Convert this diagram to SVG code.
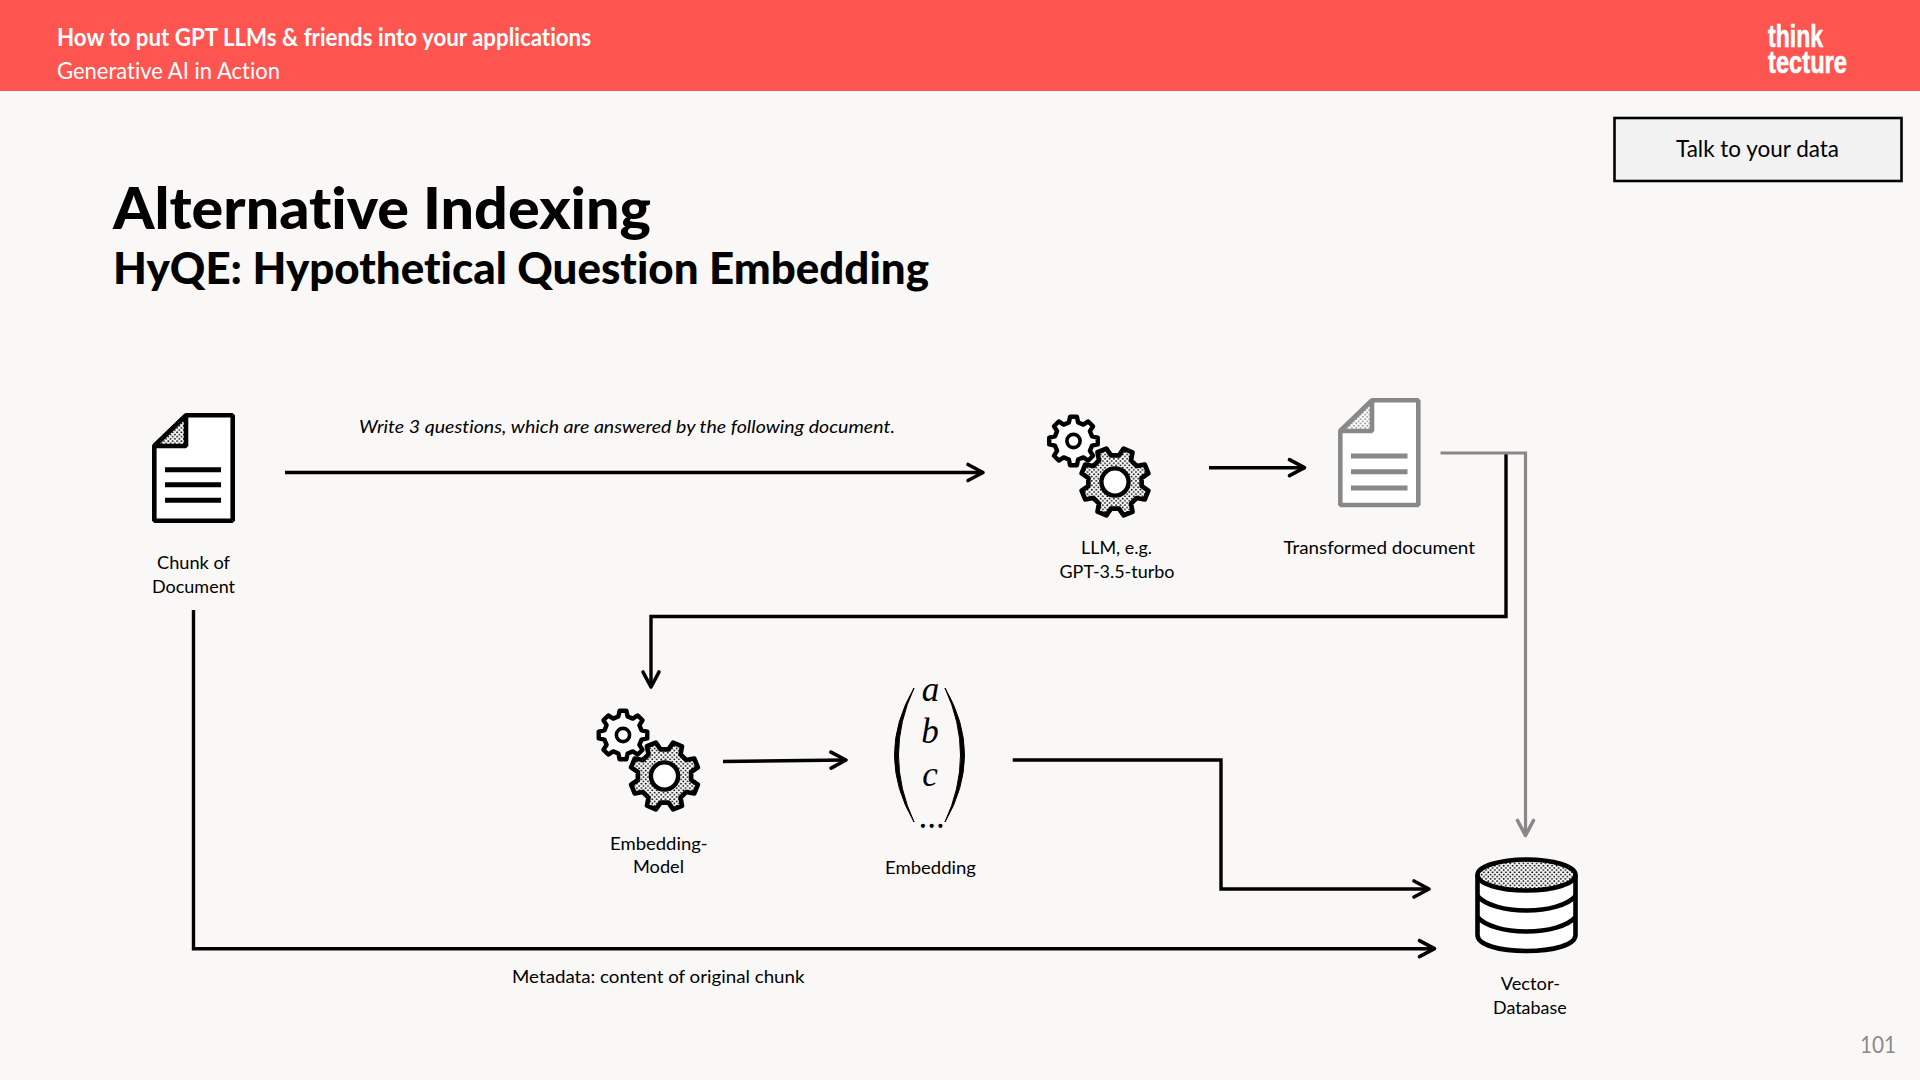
<svg xmlns="http://www.w3.org/2000/svg" xmlns:xlink="http://www.w3.org/1999/xlink" width="1920" height="1080" viewBox="0 0 1920 1080">
<style>
text{font-family:"Lato","Carlito","Liberation Sans",sans-serif;fill:#000;font-variant-ligatures:none}
.lb{font-size:17.5px}
.hd{fill:#fff;font-size:24px}
.conn{fill:none;stroke:#000;stroke-width:3.4;stroke-linejoin:miter}
.gray{stroke:#888;marker-end:url(#ag)}
.blk{marker-end:url(#ab)}
.dk{fill:#fff;stroke:#000;stroke-width:4.6;stroke-linejoin:bevel}
.mth{font-family:"Liberation Serif",serif;font-style:italic;font-size:35px;text-anchor:middle}
.logo{font-family:"Liberation Sans",sans-serif;fill:#fff;font-size:32px;font-weight:700;stroke:#fff;stroke-width:.6}
</style>
<defs>
<marker id="ab" markerUnits="userSpaceOnUse" viewBox="-20 -12 24 24" refX="0" refY="0" markerWidth="24" markerHeight="24" orient="auto"><path d="M-15,-8 L0,0 L-15,8" fill="none" stroke="#000" stroke-width="3.6" stroke-linecap="round" stroke-linejoin="round"/></marker>
<marker id="ag" markerUnits="userSpaceOnUse" viewBox="-20 -12 24 24" refX="0" refY="0" markerWidth="24" markerHeight="24" orient="auto"><path d="M-15,-8 L0,0 L-15,8" fill="none" stroke="#888" stroke-width="3.6" stroke-linecap="round" stroke-linejoin="round"/></marker>
<pattern id="dots" patternUnits="userSpaceOnUse" width="4.4" height="4.4"><rect width="4.4" height="4.4" fill="#fff"/><circle cx="1.1" cy="1.1" r="0.95" fill="#000"/><circle cx="3.3" cy="3.3" r="0.95" fill="#000"/></pattern>
<pattern id="dotsg" patternUnits="userSpaceOnUse" width="4.4" height="4.4"><rect width="4.4" height="4.4" fill="#fff"/><circle cx="1.1" cy="1.1" r="0.95" fill="#888"/><circle cx="3.3" cy="3.3" r="0.95" fill="#888"/></pattern>
<pattern id="dotsL" patternUnits="userSpaceOnUse" width="12.8" height="12.8" patternTransform="rotate(-22.5)"><rect width="12.8" height="12.8" fill="#fff"/><circle cx="3.2" cy="3.2" r="2.7" fill="#000"/><circle cx="9.6" cy="9.6" r="2.7" fill="#000"/></pattern>
<path id="gearp" d="M75.7,-18.9 L99,-13.9 L99,13.9 L75.7,18.9 L66.9,40.2 L79.8,60.2 L60.2,79.8 L40.2,66.9 L18.9,75.7 L13.9,99 L-13.9,99 L-18.9,75.7 L-40.2,66.9 L-60.2,79.8 L-79.8,60.2 L-66.9,40.2 L-75.7,18.9 L-99,13.9 L-99,-13.9 L-75.7,-18.9 L-66.9,-40.2 L-79.8,-60.2 L-60.2,-79.8 L-40.2,-66.9 L-18.9,-75.7 L-13.9,-99 L13.9,-99 L18.9,-75.7 L40.2,-66.9 L60.2,-79.8 L79.8,-60.2 L66.9,-40.2 Z" stroke-linejoin="round"/>
<g id="gears">
<use xlink:href="#gearp" href="#gearp" transform="translate(-41.5,-41) scale(.245)" fill="#fff" stroke="#000" stroke-width="18"/>
<circle cx="-41.5" cy="-41" r="6.6" fill="#fff" stroke="#000" stroke-width="3.6"/>
<use xlink:href="#gearp" href="#gearp" transform="rotate(22.5) scale(.345)" fill="url(#dotsL)" stroke="#000" stroke-width="13.5"/>
<circle r="13.6" fill="#fff" stroke="#000" stroke-width="4.4"/>
</g>
</defs>
<rect width="1920" height="1080" fill="#F9F8F6"/>
<g id="header">
<rect width="1920" height="91" fill="#FF5550"/>
<text class="hd" x="57" y="46" font-weight="700" textLength="534" lengthAdjust="spacingAndGlyphs">How to put GPT LLMs &amp; friends into your applications</text>
<text class="hd" x="57" y="79" textLength="223" lengthAdjust="spacingAndGlyphs">Generative AI in Action</text>
<g id="logo">
<text class="logo" x="1768" y="47" textLength="55" lengthAdjust="spacingAndGlyphs">think</text>
<text class="logo" x="1768" y="72.500" textLength="79" lengthAdjust="spacingAndGlyphs">tecture</text>
</g>
</g>
<g id="section-tag">
<rect x="1614.500" y="118" width="287" height="63" fill="#F2F2F2" stroke="#000" stroke-width="2.6"/>
<text x="1676" y="157" style="font-size:22.500px" textLength="163" lengthAdjust="spacingAndGlyphs">Talk to your data</text>
</g>
<g id="title">
<text x="113" y="229" style="font-size:57px" font-weight="900" textLength="538" lengthAdjust="spacingAndGlyphs">Alternative Indexing</text>
<text x="113" y="284" style="font-size:43px" font-weight="900" textLength="816" lengthAdjust="spacingAndGlyphs">HyQE: Hypothetical Question Embedding</text>
</g>
<g id="connectors">
<path class="conn blk" d="M285,472.500 H983"/>
<path class="conn blk" d="M1209,467.700 H1304.500"/>
<path class="conn blk" d="M1506,453 V616.500 H651 V687"/>
<path class="conn gray" d="M1440.500,453 H1525.500 V835.500" style="stroke-width:3.200"/>
<path class="conn blk" d="M723,761.500 L846,760"/>
<path class="conn blk" d="M1012.700,760 H1221 V889 H1429"/>
<path class="conn blk" d="M193.500,610 V948.700 H1434.500"/>
</g>
<text class="lb" id="edge-label-prompt" x="359" y="433" font-style="italic" textLength="536" lengthAdjust="spacingAndGlyphs">Write 3 questions, which are answered by the following document.</text>
<text class="lb" id="edge-label-meta" x="512" y="983" textLength="292.500" lengthAdjust="spacingAndGlyphs">Metadata: content of original chunk</text>
<g id="node-chunk">
<path class="dk" d="M154.300,446 L186,415.300 H232.700 V520.700 H154.300 Z"/>
<path d="M154.300,446 L186,415.300 V446 Z" fill="url(#dots)" stroke="#000" stroke-width="4.600" stroke-linejoin="bevel"/>
<path d="M165,469.700 H221 M165,484.700 H221 M165,500.300 H221" stroke="#000" stroke-width="5" fill="none"/>
<text class="lb" x="157" y="569" textLength="73" lengthAdjust="spacingAndGlyphs">Chunk of</text>
<text class="lb" x="152" y="593" textLength="83" lengthAdjust="spacingAndGlyphs">Document</text>
</g>
<g id="node-llm">
<use xlink:href="#gears" href="#gears" transform="translate(1115,482)"/>
<text class="lb" x="1081" y="554" textLength="71" lengthAdjust="spacingAndGlyphs">LLM, e.g.</text>
<text class="lb" x="1059.500" y="578" textLength="115" lengthAdjust="spacingAndGlyphs">GPT-3.5-turbo</text>
</g>
<g id="node-transformed">
<path class="dk" style="stroke:#888" d="M1340.300,431 L1372,400.300 H1418.300 V505 H1340.300 Z"/>
<path d="M1340.300,431 L1372,400.300 V431 Z" fill="url(#dotsg)" stroke="#888" stroke-width="4.600" stroke-linejoin="bevel"/>
<path d="M1351,456 H1407.500 M1351,471.700 H1407.500 M1351,488 H1407.500" stroke="#888" stroke-width="5" fill="none"/>
<text class="lb" x="1283.400" y="554" textLength="191.600" lengthAdjust="spacingAndGlyphs">Transformed document</text>
</g>
<g id="node-embedding-model">
<use xlink:href="#gears" href="#gears" transform="translate(664.500,776)"/>
<text class="lb" x="610" y="850" textLength="97.700" lengthAdjust="spacingAndGlyphs">Embedding-</text>
<text class="lb" x="633" y="873" textLength="51" lengthAdjust="spacingAndGlyphs">Model</text>
</g>
<g id="node-embedding">
<path d="M914,688 Q875,755 914,822 Q883,755 914,688 Z" fill="#000" stroke="#000" stroke-width="1"/>
<path d="M945,688 Q984,755 945,822 Q976,755 945,688 Z" fill="#000" stroke="#000" stroke-width="1"/>
<text class="mth" x="930.500" y="701">a</text>
<text class="mth" x="930" y="743">b</text>
<text class="mth" x="930" y="786">c</text>
<text class="mth" x="931.500" y="828" style="font-style:normal">...</text>
<text class="lb" x="885" y="874" textLength="91" lengthAdjust="spacingAndGlyphs">Embedding</text>
</g>
<g id="node-vector-db">
<path d="M1477.500,875 V935 C1477.500,945 1500,951 1526.500,951 C1553,951 1575.500,945 1575.500,935 V875" fill="#fff" stroke="#000" stroke-width="4.600"/>
<path d="M1477.500,896 C1485,905 1505,910.500 1526.500,910.500 C1548,910.500 1568,905 1575.500,896 M1477.500,917 C1485,926 1505,931.500 1526.500,931.500 C1548,931.500 1568,926 1575.500,917" fill="none" stroke="#000" stroke-width="4.600"/>
<ellipse cx="1526.500" cy="875" rx="49" ry="15.500" fill="url(#dots)" stroke="#000" stroke-width="4.600"/>
<text class="lb" x="1500.700" y="990" textLength="59.300" lengthAdjust="spacingAndGlyphs">Vector-</text>
<text class="lb" x="1493" y="1014" textLength="73.700" lengthAdjust="spacingAndGlyphs">Database</text>
</g>
<text id="page-number" x="1860" y="1053" style="fill:#8a8a8a;font-size:24px" textLength="36" lengthAdjust="spacingAndGlyphs">101</text>
</svg>
